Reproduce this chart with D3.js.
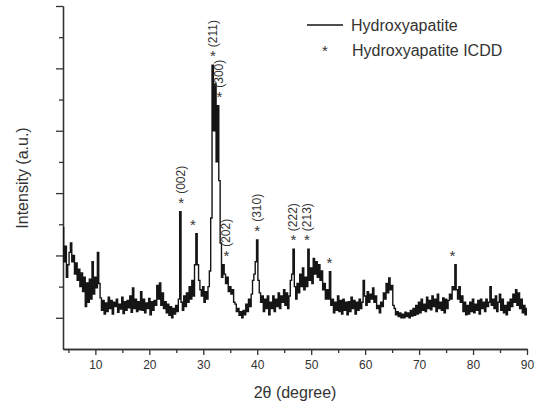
<!DOCTYPE html>
<html lang="en">
<head>
<meta charset="utf-8" />
<title>XRD Hydroxyapatite</title>
<style>
body { margin: 0; background: #fff; }
svg text { font-family: "Liberation Sans", Arial, sans-serif; fill: #333; }
</style>
</head>
<body>
<div id="chart"></div>
<script src="https://cdnjs.cloudflare.com/ajax/libs/d3/7.8.5/d3.min.js"></script>
<script type="text/javascript">
// scan: 2theta from 4 to 90 deg, step 0.25
var thetaStart = 4, thetaStep = 0.25;
// intensity (a.u.), one row per degree
var intensity = [
  1450, 900, 1150, 650,   // 4
  850, 1050, 1200, 900,   // 5
  1000, 700, 880, 600,    // 6
  780, 500, 720, 420,     // 7
  650, 180, 560, 250,     // 8
  620, 300, 900, 380,     // 9
  650, 480, 1050, 550,    // 10
  320, 120, 280, 60,      // 11
  240, 100, 330, 150,     // 12
  280, 60, 250, 180,      // 13
  300, 90, 220, 140,      // 14
  330, 70, 260, 120,      // 15
  280, 160, 350, 90,      // 16
  480, 150, 300, 100,     // 17
  260, 130, 420, 120,     // 18
  300, 80, 240, 150,      // 19
  310, 50, 260, 120,      // 20
  280, 200, 520, 300,     // 21
  560, 200, 400, 150,     // 22
  260, 80, 220, 40,       // 23
  180, 0, 150, 60,        // 24
  200, 100, 300, 1700,    // 25
  250, 120, 350, 180,     // 26
  400, 250, 500, 300,     // 27
  600, 350, 850, 1350,    // 28
  850, 600, 450, 350,     // 29
  500, 250, 420, 300,     // 30
  500, 750, 1600, 4050,   // 31
  3000, 3750, 2500, 3400, // 32
  2200, 1200, 650, 850,   // 33
  700, 550, 650, 420,     // 34
  500, 380, 450, 250,     // 35
  220, 100, 150, 40,      // 36
  100, 0, 120, 50,        // 37
  220, 100, 300, 180,     // 38
  380, 600, 700, 900,     // 39
  1250, 600, 400, 250,    // 40
  350, 100, 300, 150,     // 41
  350, 50, 250, 150,      // 42
  350, 100, 300, 180,     // 43
  400, 150, 350, 250,     // 44
  450, 200, 400, 150,     // 45
  350, 600, 700, 1100,    // 46
  500, 300, 550, 400,     // 47
  700, 500, 800, 450,     // 48
  650, 500, 1100, 600,    // 49
  800, 550, 950, 700,     // 50
  900, 650, 850, 600,     // 51
  750, 450, 550, 300,     // 52
  450, 300, 740, 200,     // 53
  300, 80, 250, 120,      // 54
  350, 100, 280, 60,      // 55
  300, 120, 250, 50,      // 56
  260, 100, 330, 150,     // 57
  280, 60, 250, 120,      // 58
  300, 150, 250, 600,     // 59
  350, 200, 420, 250,     // 60
  380, 300, 480, 250,     // 61
  350, 150, 200, 80,      // 62
  250, 180, 400, 300,     // 63
  550, 400, 640, 450,     // 64
  520, 200, 150, 50,      // 65
  100, 20, 80, 0,         // 66
  60, 0, 90, 20,          // 67
  80, 0, 120, 30,         // 68
  150, 40, 200, 60,       // 69
  250, 80, 300, 120,      // 70
  220, 100, 330, 150,     // 71
  280, 130, 350, 180,     // 72
  300, 100, 380, 150,     // 73
  250, 120, 320, 80,      // 74
  300, 150, 280, 380,     // 75
  300, 500, 450, 850,     // 76
  450, 300, 500, 250,     // 77
  350, 100, 250, 50,      // 78
  200, 60, 250, 100,      // 79
  300, 80, 220, 120,      // 80
  280, 60, 300, 150,      // 81
  250, 100, 300, 180,     // 82
  250, 500, 200, 300,     // 83
  150, 350, 100, 250,     // 84
  380, 120, 300, 80,      // 85
  200, 50, 250, 120,      // 86
  300, 180, 380, 250,     // 87
  450, 200, 400, 150,     // 88
  300, 80, 200, 50,       // 89
  150                     // 90
];

// ICDD reference reflections
var icddTheta  = [25.9, 28.1, 31.8, 33.0, 34.3, 40.0, 46.7, 49.2, 53.4, 76.2];
var icddHeight = [1700, 1350, 4050, 3400, 850, 1250, 1100, 1100, 740, 850];
var icddLabel  = ["(002)", "", "(211)", "(300)", "(202)", "(310)", "(222)", "(213)", "", ""];

var xTicks = [10, 20, 30, 40, 50, 60, 70, 80, 90];
var legendNames = ["Hydroxyapatite", "Hydroxyapatite ICDD"];

var width = 542, height = 407;
var svg = d3.select("#chart").append("svg")
    .attr("width", width)
    .attr("height", height);

var x = d3.scaleLinear().domain([4, 90]).range([63, 527]);
var y = d3.scaleLinear().domain([-500, 5000]).range([349, 6]);

// axes: major + minor ticks, outside
var xMajor = d3.axisBottom(x).tickValues(xTicks).tickSize(6).tickSizeOuter(0).tickPadding(5).tickFormat(d3.format("d"));
var xMinor = d3.axisBottom(x).tickValues(d3.range(5, 90, 10)).tickSize(4).tickSizeOuter(0).tickFormat("");
var yMajor = d3.axisLeft(y).tickValues(d3.range(0, 5001, 1000)).tickSize(7).tickSizeOuter(0).tickFormat("");
var yMinor = d3.axisLeft(y).tickValues(d3.range(500, 5000, 1000)).tickSize(4).tickSizeOuter(0).tickFormat("");

function styleAxis(g) {
  g.selectAll("path, line").attr("stroke", "#333").attr("stroke-width", 1.3);
  g.selectAll("text").attr("font-size", 12).attr("fill", "#333")
   .attr("font-family", "'Liberation Sans', Arial, sans-serif");
}
svg.append("g").attr("transform", "translate(0,349)").call(xMajor).call(styleAxis);
svg.append("g").attr("transform", "translate(0,349)").call(xMinor).call(styleAxis);
svg.append("g").attr("transform", "translate(63,0)").call(yMajor).call(styleAxis);
svg.append("g").attr("transform", "translate(63,0)").call(yMinor).call(styleAxis);

// spectrum, drawn as steps like the instrument trace
var line = d3.line()
    .x(function (d, i) { return x(thetaStart + i * thetaStep); })
    .y(function (d) { return y(d); })
    .curve(d3.curveStep);
svg.append("path")
   .datum(intensity)
   .attr("d", line)
   .attr("fill", "none")
   .attr("stroke", "#151515")
   .attr("stroke-width", 1.4);

// ICDD markers
var marks = svg.append("g");
icddTheta.forEach(function (t, i) {
  var cx = x(t), cy = y(icddHeight[i]) - 12;
  marks.append("text")
       .attr("x", cx).attr("y", cy + 8)
       .attr("text-anchor", "middle")
       .attr("font-size", 15)
       .text("*");
  if (icddLabel[i]) {
    marks.append("text")
         .attr("transform", "translate(" + (cx + 4) + "," + (cy - 6) + ") rotate(-90)")
         .attr("font-size", 12)
         .text(icddLabel[i]);
  }
});

// axis titles
svg.append("text")
   .attr("x", 295).attr("y", 398)
   .attr("text-anchor", "middle")
   .attr("font-size", 16)
   .text("2\u03b8 (degree)");
svg.append("text")
   .attr("transform", "translate(28,178) rotate(-90)")
   .attr("text-anchor", "middle")
   .attr("font-size", 16)
   .text("Intensity (a.u.)");

// legend
svg.append("line")
   .attr("x1", 307).attr("x2", 343).attr("y1", 25).attr("y2", 25)
   .attr("stroke", "#151515").attr("stroke-width", 1.3);
svg.append("text").attr("x", 351).attr("y", 31).attr("font-size", 16).text(legendNames[0]);
svg.append("text").attr("x", 325).attr("y", 56).attr("text-anchor", "middle").attr("font-size", 15).text("*");
svg.append("text").attr("x", 352).attr("y", 56).attr("font-size", 16).text(legendNames[1]);
</script>
</body>
</html>
